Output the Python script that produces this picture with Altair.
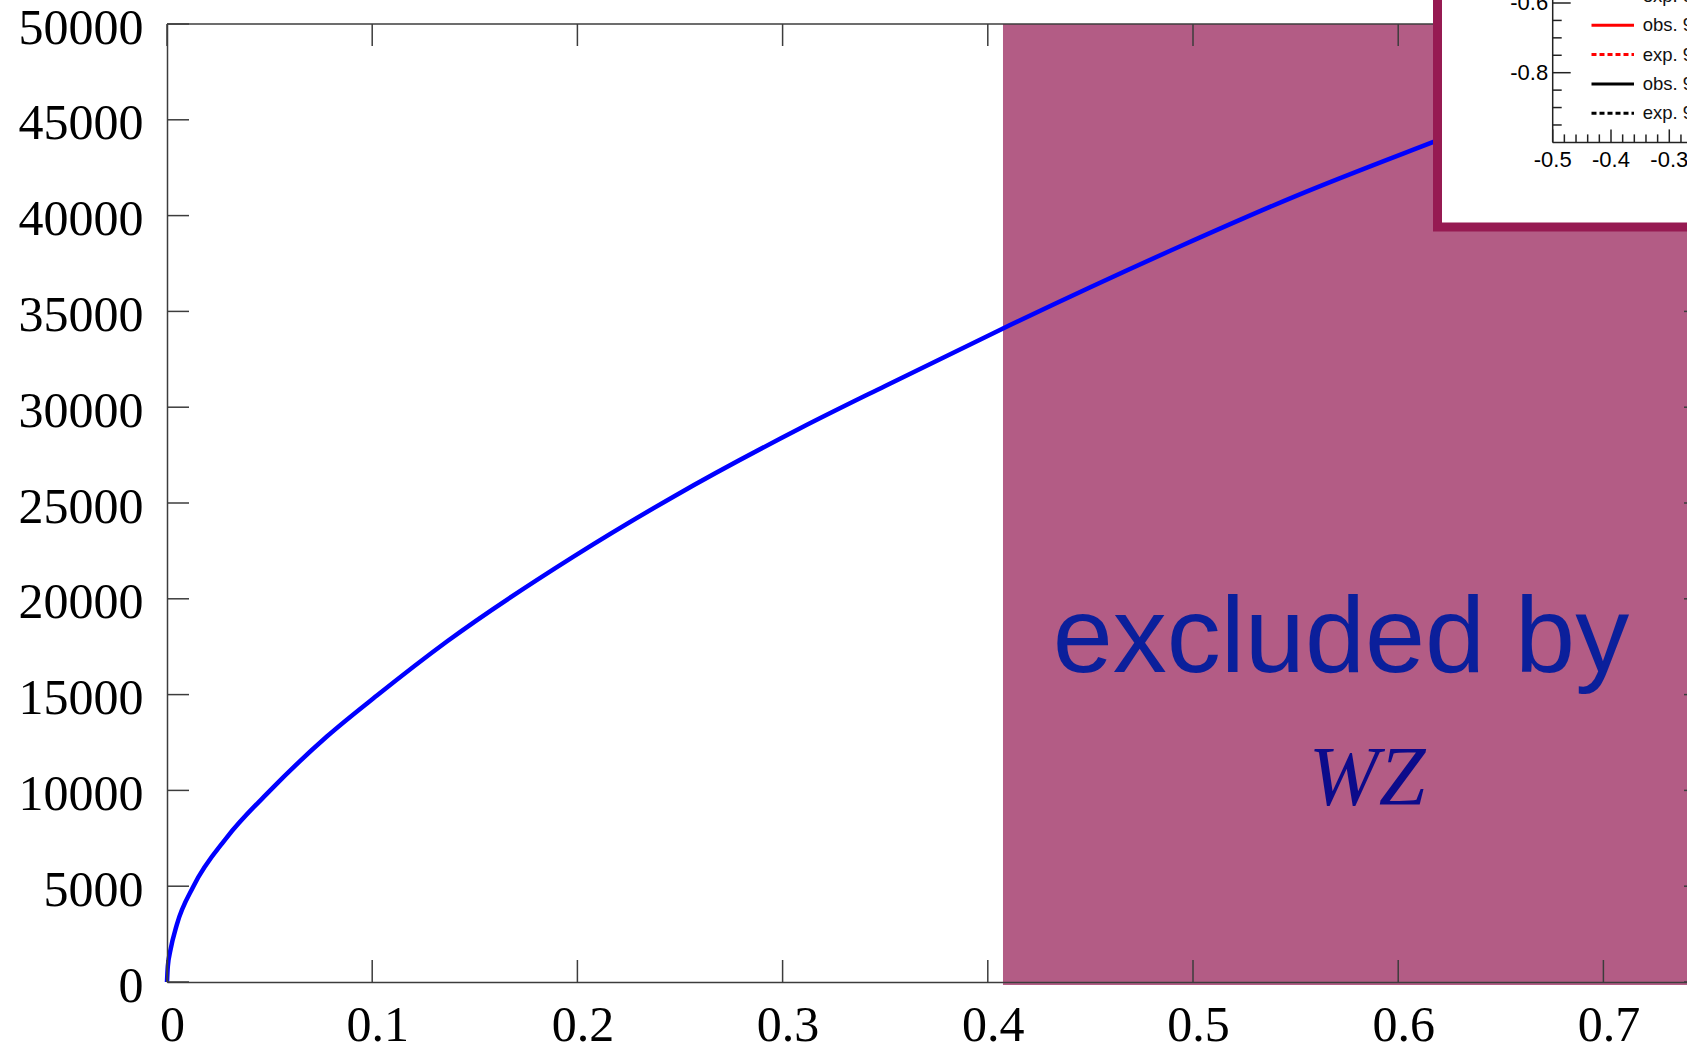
import altair as alt
import pandas as pd

# ---------------- data ----------------
ratio_x = [0.0, 0.0004, 0.0016, 0.0048, 0.0129, 0.0292, 0.0503, 0.0779, 0.1023, 0.1364,
           0.1981, 0.2468, 0.3086, 0.3500, 0.4074, 0.4938, 0.5500, 0.6172, 0.6400]
limit_y = [0, 820, 1620, 3000, 5000, 7550, 10000, 12810, 14950, 17770,
           22200, 25330, 28900, 31110, 34110, 38400, 41020, 43850, 44790]

excluded_from = [0.4074]
x_ticks = [0.0, 0.1, 0.2, 0.3, 0.4, 0.5, 0.6, 0.7]
y_ticks = [0, 5000, 10000, 15000, 20000, 25000, 30000, 35000, 40000, 45000, 50000]

label_main = "excluded by"
label_sub = "WZ"

# inset (cropped in the original)
inset_x_major = [-0.5, -0.4, -0.3]
inset_x_minor = [-0.48, -0.46, -0.44, -0.42, -0.38, -0.36, -0.34, -0.32, -0.28, -0.26]
inset_y_major = [-0.6, -0.8]
inset_y_minor = [-0.65, -0.7, -0.75, -0.85, -0.9, -0.95]
legend_text = ["exp. 95% CL", "obs. 95% CL", "exp. 95% CL", "obs. 95% CL", "exp. 95% CL"]
legend_color = ["#000000", "#ff0000", "#ff0000", "#000000", "#000000"]
legend_dotted = [True, False, True, False, True]

# ---------------- layout ----------------
W, H = 1520, 958
PX_PER_UNIT_X = 2052.0
X_MAX = W / PX_PER_UNIT_X
Y_MAX = 50000
TICK = 22
AX_COL = "#3c3c3c"
RIGHT_AXIS_PX = 0.75 * PX_PER_UNIT_X


def xs():
    return alt.Scale(domain=[0, X_MAX], nice=False, zero=False)


def ys():
    return alt.Scale(domain=[0, Y_MAX], nice=False, zero=False)


curve_df = pd.DataFrame({"x": ratio_x, "y": limit_y})
xt_df = pd.DataFrame({"x": x_ticks})
yt_df = pd.DataFrame({"y": y_ticks})
one = pd.DataFrame({"a": [0]})

excl = alt.Chart(pd.DataFrame({"x0": excluded_from})).mark_rect(color="#b35c85").encode(
    x=alt.X("x0:Q", scale=xs(), axis=None),
    x2=alt.value(W),
    y=alt.value(0),
    y2=alt.value(H + 3),
)

curve = alt.Chart(curve_df).mark_line(color="#0000ff", strokeWidth=4.5, interpolate="monotone").encode(
    x=alt.X("x:Q", scale=xs(), title=None,
            axis=alt.Axis(values=x_ticks, format="~g", ticks=False, tickSize=0, grid=False,
                          domainColor=AX_COL, domainWidth=1.5,
                          labelFont="Liberation Serif", labelFontSize=50, labelColor="black",
                          labelPadding=58, labelBaseline="alphabetic", labelFlush=False,
                          labelOverlap=False, labelOffset=5, zindex=1)),
    y=alt.Y("y:Q", scale=ys(), title=None,
            axis=alt.Axis(values=y_ticks, format="d", ticks=False, tickSize=0, grid=False,
                          domainColor=AX_COL, domainWidth=1.5,
                          labelFont="Liberation Serif", labelFontSize=50, labelColor="black",
                          labelPadding=24, labelBaseline="middle", labelFlush=False,
                          labelOverlap=False, labelOffset=4, zindex=1)),
)

txt_df = pd.DataFrame({"x": [0.5721], "y": [16180], "t": [label_main]})
txt = alt.Chart(txt_df).mark_text(font="Liberation Sans", fontSize=108, color="#0b1f9b",
                                  align="center", baseline="alphabetic").encode(
    x=alt.X("x:Q", scale=xs(), axis=None), y=alt.Y("y:Q", scale=ys(), axis=None), text="t:N")
txt2_df = pd.DataFrame({"x": [0.5848], "y": [9238], "t": [label_sub]})
txt2 = alt.Chart(txt2_df).mark_text(font="Liberation Serif", fontSize=84, fontStyle="italic",
                                    color="#0c0b8b", align="center", baseline="alphabetic").encode(
    x=alt.X("x:Q", scale=xs(), axis=None), y=alt.Y("y:Q", scale=ys(), axis=None), text="t:N")

rule_kw = dict(color=AX_COL, strokeWidth=1.5)
bt = alt.Chart(xt_df).mark_rule(**rule_kw).encode(
    x=alt.X("x:Q", scale=xs(), axis=None), y=alt.value(H), y2=alt.value(H - TICK))
tt = alt.Chart(xt_df).mark_rule(**rule_kw).encode(
    x=alt.X("x:Q", scale=xs(), axis=None), y=alt.value(0), y2=alt.value(TICK))
lt = alt.Chart(yt_df).mark_rule(**rule_kw).encode(
    y=alt.Y("y:Q", scale=ys(), axis=None), x=alt.value(0), x2=alt.value(TICK))
rt = alt.Chart(yt_df).mark_rule(**rule_kw).encode(
    y=alt.Y("y:Q", scale=ys(), axis=None), x=alt.value(RIGHT_AXIS_PX - TICK), x2=alt.value(RIGHT_AXIS_PX))
top_line = alt.Chart(one).mark_rule(**rule_kw).encode(
    x=alt.value(0), x2=alt.value(W), y=alt.value(0))

box = alt.Chart(one).mark_rect(fill="white", stroke="#961a52", strokeWidth=9).encode(
    x=alt.value(1270.5), x2=alt.value(W + 40), y=alt.value(-40), y2=alt.value(203))

# ---------------- inset (own scales) ----------------
IPX_X, IPX_Y = 583.0, 348.5
ORIGIN_PX_X, ORIGIN_PX_Y = 1385.7, 118.4  # where (-0.5, -1.0) sits, relative to plot
IX_DOM = [-0.5 - ORIGIN_PX_X / IPX_X, -0.5 + (W - ORIGIN_PX_X) / IPX_X]
IY_DOM = [-1.0 - (H - ORIGIN_PX_Y) / IPX_Y, -1.0 + ORIGIN_PX_Y / IPX_Y]


def IX(f):
    return alt.X(f, type="quantitative", scale=alt.Scale(domain=IX_DOM, nice=False, zero=False), axis=None)


def IY(f):
    return alt.Y(f, type="quantitative", scale=alt.Scale(domain=IY_DOM, nice=False, zero=False), axis=None)


ink = dict(color="#222222", strokeWidth=1.5)
axes_df = pd.DataFrame({"x": [-0.5, -0.5], "x2": [-0.5, -0.2], "y": [-1.0, -1.0], "y2": [-0.5, -1.0]})
i_axes = alt.Chart(axes_df).mark_rule(**ink).encode(x=IX("x"), x2="x2", y=IY("y"), y2="y2")


def xt_layer(vals, length):
    d = pd.DataFrame({"x": vals, "y": [-1.0] * len(vals), "y2": [-1.0 + length] * len(vals)})
    return alt.Chart(d).mark_rule(**ink).encode(x=IX("x"), y=IY("y"), y2="y2")


def yt_layer(vals, length):
    d = pd.DataFrame({"y": vals, "x": [-0.5] * len(vals), "x2": [-0.5 + length] * len(vals)})
    return alt.Chart(d).mark_rule(**ink).encode(y=IY("y"), x=IX("x"), x2="x2")


i_xmaj = xt_layer(inset_x_major, 13 / IPX_Y)
i_xmin = xt_layer(inset_x_minor, 8 / IPX_Y)
i_ymaj = yt_layer(inset_y_major, 18 / IPX_X)
i_ymin = yt_layer(inset_y_minor, 9 / IPX_X)

xl_df = pd.DataFrame({"x": inset_x_major, "y": [-1.0 - 18 / IPX_Y] * 3,
                      "t": [f"{v:.1f}" for v in inset_x_major]})
i_xlab = alt.Chart(xl_df).mark_text(font="Liberation Sans", fontSize=22, color="black",
                                    align="center", baseline="middle").encode(
    x=IX("x"), y=IY("y"), text="t:N")
yl_df = pd.DataFrame({"y": inset_y_major, "x": [-0.5 - 4.5 / IPX_X] * 2,
                      "t": [f"{v:.1f}" for v in inset_y_major]})
i_ylab = alt.Chart(yl_df).mark_text(font="Liberation Sans", fontSize=22, color="black",
                                    align="right", baseline="middle").encode(
    x=IX("x"), y=IY("y"), text="t:N")

LEG_TOP = -0.6 + 7.0 / IPX_Y
LEG_STEP = 29.3 / IPX_Y
leg_rows = []
for i, (t, c, d) in enumerate(zip(legend_text, legend_color, legend_dotted)):
    yv = LEG_TOP - i * LEG_STEP
    leg_rows.append({"y": yv, "x": -0.5 + 38.8 / IPX_X, "x2": -0.5 + 81.3 / IPX_X,
                     "tx": -0.5 + 90.0 / IPX_X, "t": t, "c": c, "d": d})
leg_df = pd.DataFrame(leg_rows)
leg_solid = alt.Chart(leg_df[~leg_df["d"]]).mark_rule(strokeWidth=3).encode(
    x=IX("x"), x2="x2", y=IY("y"), color=alt.Color("c:N", scale=None))
leg_dot = alt.Chart(leg_df[leg_df["d"]]).mark_rule(strokeWidth=3, strokeDash=[5, 3]).encode(
    x=IX("x"), x2="x2", y=IY("y"), color=alt.Color("c:N", scale=None))
leg_txt = alt.Chart(leg_df).mark_text(font="Liberation Sans", fontSize=18.5, color="#111111",
                                      align="left", baseline="middle").encode(
    x=IX("tx"), y=IY("y"), text="t:N")

chart = alt.layer(
    excl, curve, txt, txt2, bt, tt, lt, rt, top_line, box,
    i_axes, i_xmaj, i_xmin, i_ymaj, i_ymin, i_xlab, i_ylab, leg_solid, leg_dot, leg_txt,
).resolve_scale(x="independent", y="independent").properties(
    width=W, height=H,
    padding={"left": 167, "top": 24, "right": 0, "bottom": 66},
    autosize=alt.AutoSizeParams(type="none"),
    background="white",
).configure_view(strokeWidth=0)

chart.save("out.html", embed_options={"renderer": "svg", "actions": False})
